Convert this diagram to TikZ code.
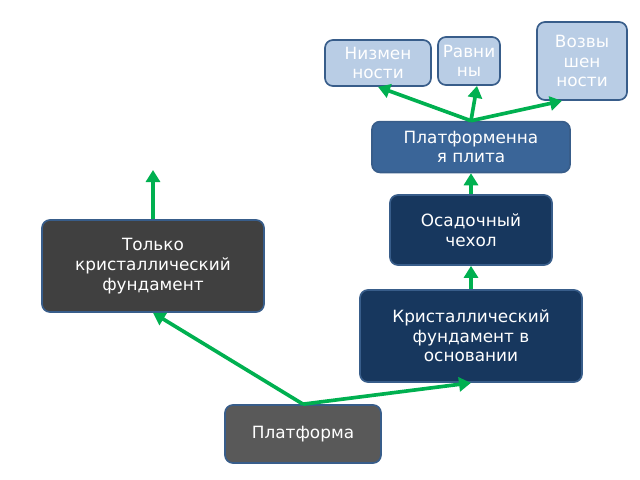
\documentclass[tikz,border=0pt]{standalone}
\usepackage{fontspec}
\setmainfont{DejaVu Sans}
\usetikzlibrary{arrows.meta, positioning}
\definecolor{lightbl}{HTML}{B9CDE5}
\definecolor{midbl}{HTML}{3A6598}
\definecolor{darkbl}{HTML}{17375E}
\definecolor{edgebl}{HTML}{385D8A}
\definecolor{grn}{HTML}{00B050}
\begin{document}
\begin{tikzpicture}[
    x=0.025cm, y=-0.025cm,
    font=\fontsize{12}{14}\selectfont,
    box/.style={rectangle, rounded corners=2mm, draw=edgebl, line width=1.2pt,
                text=white, align=center, inner sep=1pt},
    light/.style={box, fill=lightbl},
    mid/.style={box, fill=midbl},
    dark/.style={box, fill=darkbl},
    arrow/.style={-{Triangle[length=3mm,width=3.5mm]}, draw=grn, line width=2.6pt}
]
\useasboundingbox (0,0) rectangle (640,480);

% --- Nodos ---
\node[light, minimum width=2.25cm, minimum height=1.95cm] (vozv) at (582,61) {Возвы\\шен\\ности};
\node[light, minimum width=1.55cm, minimum height=1.2cm] (ravn) at (469,61) {Равни\\ны};
\node[light, minimum width=2.65cm, minimum height=1.15cm] (nizm) at (378,63) {Низмен\\ности};
\node[mid, minimum width=4.95cm, minimum height=1.27cm] (plita) at (471,147) {Платформенна\\я плита};
\node[dark, minimum width=4.05cm, minimum height=1.75cm] (chehol) at (471,230) {Осадочный\\чехол};
\node[box, fill=black!75, minimum width=5.55cm, minimum height=2.3cm] (tolko) at (153,266) {Только\\кристаллический\\фундамент};
\node[dark, minimum width=5.55cm, minimum height=2.3cm] (osnov) at (471,336) {Кристаллический\\фундамент в\\основании};
\node[box, fill=black!65, minimum width=3.9cm, minimum height=1.45cm] (platf) at (303,434) {Платформа};
\coordinate (free) at (153,170);

% --- Flechas ---
\draw[arrow] (platf.north) -- (tolko.south);
\draw[arrow] (platf.north) -- (osnov.south);
\draw[arrow] (osnov) -- (chehol);
\draw[arrow] (chehol) -- (plita);
\draw[arrow] (tolko.north) -- (free);
\draw[arrow] (plita.north) -- (nizm.south);
\draw[arrow] (plita.north) -- ([xshift=0.2cm]ravn.south);
\draw[arrow] (plita.north) -- ([xshift=-0.5cm]vozv.south);
\end{tikzpicture}
\end{document}
